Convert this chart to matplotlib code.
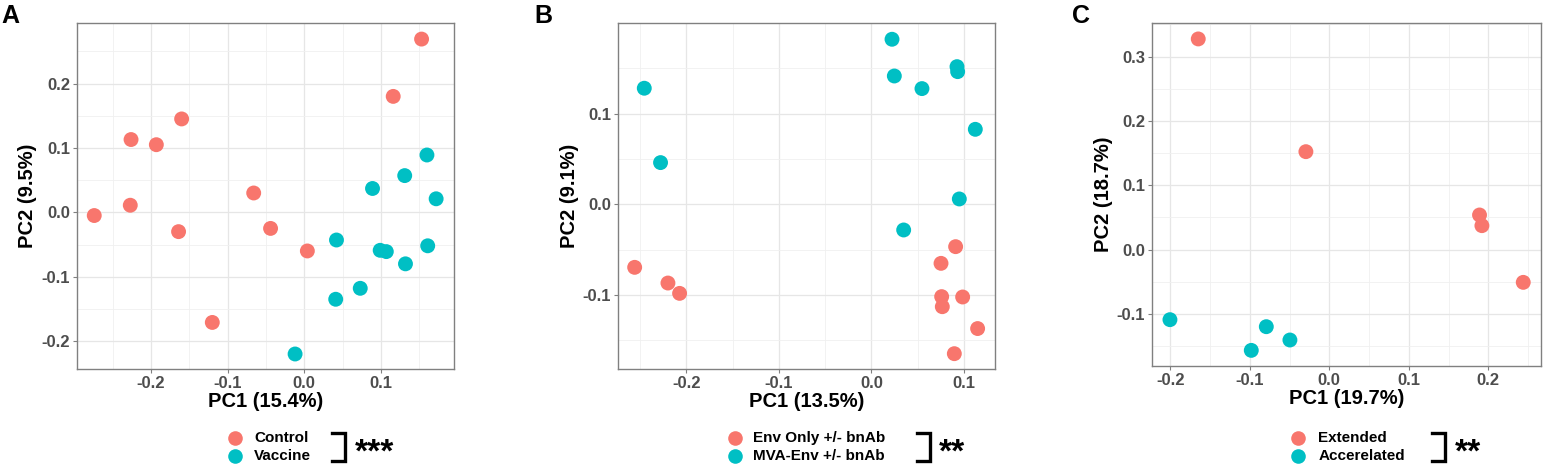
import matplotlib
matplotlib.use("Agg")
import matplotlib.pyplot as plt
from matplotlib.lines import Line2D
from matplotlib.ticker import MultipleLocator, FormatStrFormatter

plt.rcParams['font.family'] = ['Liberation Sans', 'DejaVu Sans']

RED = "#F8766D"
TEAL = "#00BFC4"

# ---------------- Data ----------------
# Panel A
a_control_x = [0.153, 0.116, -0.160, -0.226, -0.193, -0.066, -0.227, -0.274, -0.164, -0.044, 0.004, -0.120]
a_control_y = [0.269, 0.180, 0.145, 0.113, 0.105, 0.030, 0.011, -0.005, -0.030, -0.025, -0.060, -0.171]
a_vaccine_x = [0.160, 0.131, 0.089, 0.172, 0.042, 0.099, 0.107, 0.161, 0.132, 0.073, 0.041, -0.012]
a_vaccine_y = [0.089, 0.057, 0.037, 0.021, -0.043, -0.059, -0.061, -0.052, -0.080, -0.118, -0.135, -0.220]

# Panel B
b_env_x = [0.0912, 0.0754, -0.256, -0.220, -0.2074, 0.0761, 0.0988, 0.0768, 0.115, 0.0898]
b_env_y = [-0.0467, -0.0651, -0.0695, -0.0868, -0.0982, -0.1018, -0.1022, -0.1129, -0.137, -0.1647]
b_mva_x = [0.0224, 0.0249, 0.0548, 0.0927, 0.0934, -0.2456, 0.1125, -0.228, 0.0952, 0.035]
b_mva_y = [0.182, 0.1415, 0.1276, 0.1518, 0.1463, 0.128, 0.0827, 0.046, 0.0059, -0.0283]

# Panel C
c_ext_x = [-0.1648, -0.0294, 0.189, 0.192, 0.244]
c_ext_y = [0.3275, 0.1523, 0.0539, 0.0373, -0.0508]
c_acc_x = [-0.2004, -0.0792, -0.0495, -0.0981]
c_acc_y = [-0.1088, -0.1197, -0.1404, -0.1565]

panels = [
    dict(letter="A", xlabel="PC1 (15.4%)", ylabel="PC2 (9.5%)",
         groups=[("Control", RED, a_control_x, a_control_y), ("Vaccine", TEAL, a_vaccine_x, a_vaccine_y)],
         stars="***", xlim=(-0.2965, 0.1953), ylim=(-0.2433, 0.2935)),
    dict(letter="B", xlabel="PC1 (13.5%)", ylabel="PC2 (9.1%)",
         groups=[("Env Only +/- bnAb", RED, b_env_x, b_env_y), ("MVA-Env +/- bnAb", TEAL, b_mva_x, b_mva_y)],
         stars="**", xlim=(-0.2737, 0.1338), ylim=(-0.1816, 0.1996)),
    dict(letter="C", xlabel="PC1 (19.7%)", ylabel="PC2 (18.7%)",
         groups=[("Extended", RED, c_ext_x, c_ext_y), ("Accerelated", TEAL, c_acc_x, c_acc_y)],
         stars="**", xlim=(-0.2226, 0.2667), ylim=(-0.1808, 0.3518)),
]

W, H = 1549, 471
fig = plt.figure(figsize=(W / 100, H / 100), dpi=100)

def fx(px):
    return px / W

def fy(py):
    return 1 - py / H

# pixel geometry of axes boxes (left, right, top, bottom)
boxes = [(77, 454, 23.3, 369), (618.3, 995, 23.3, 369), (1152.3, 1541.3, 23.3, 366)]
letter_x = [1, 534, 1072]
legend_geo = [
    # marker x, text x, bracket left, bracket right, stars x
    (235, 254, 331.7, 345, 355),
    (735, 753.3, 916.7, 930, 939),
    (1298.3, 1318.3, 1431.7, 1445, 1455),
]

for p, box, lx, lg in zip(panels, boxes, letter_x, legend_geo):
    l, r, t, b = box
    ax = fig.add_axes([fx(l), fy(b), fx(r) - fx(l), fy(t) - fy(b)])
    ax.set_xlim(*p["xlim"])
    ax.set_ylim(*p["ylim"])
    ax.xaxis.set_major_locator(MultipleLocator(0.1))
    ax.yaxis.set_major_locator(MultipleLocator(0.1))
    ax.xaxis.set_minor_locator(MultipleLocator(0.05))
    ax.yaxis.set_minor_locator(MultipleLocator(0.05))
    ax.grid(which="major", color="#E6E6E6", linewidth=0.9)
    ax.grid(which="minor", color="#F0F0F0", linewidth=0.6)
    ax.set_axisbelow(True)
    for s in ax.spines.values():
        s.set_color("#808080")
        s.set_linewidth(1.0)
    ax.tick_params(which="major", length=3, color="#808080", width=0.8,
                   labelsize=12, labelcolor="#4D4D4D", pad=2)
    ax.tick_params(which="minor", length=0)
    ax.xaxis.set_major_formatter(FormatStrFormatter("%.1f"))
    ax.yaxis.set_major_formatter(FormatStrFormatter("%.1f"))
    for lab in ax.get_xticklabels() + ax.get_yticklabels():
        lab.set_fontweight("bold")
    for name, col, xs, ys in p["groups"]:
        ax.scatter(xs, ys, s=115, color=col, edgecolors="none", zorder=3)
    ax.set_xlabel(p["xlabel"], fontsize=14.5, fontweight="bold", color="black", labelpad=1)
    ax.set_ylabel(p["ylabel"], fontsize=14.5, fontweight="bold", color="black", labelpad=3)

    fig.text(fx(lx), fy(16), p["letter"], fontsize=18, fontweight="bold",
             ha="left", va="center")

    mx, tx, bl, br, sx = lg
    ys_leg = [438.3, 456]
    for (name, col, _, _), yy in zip(p["groups"], ys_leg):
        fig.add_artist(Line2D([fx(mx)], [fy(yy)], marker="o", markersize=10.5,
                              color=col, markeredgewidth=0, linestyle="none",
                              transform=fig.transFigure))
        fig.text(fx(tx), fy(yy), name, fontsize=11, fontweight="bold",
                 ha="left", va="center")
    fig.add_artist(Line2D([fx(bl), fx(br), fx(br), fx(bl)],
                          [fy(432.5), fy(432.5), fy(460.5), fy(460.5)],
                          color="black", linewidth=2.4, solid_joinstyle="miter",
                          transform=fig.transFigure))
    fig.text(fx(sx), fy(453), p["stars"], fontsize=24, fontweight="bold",
             ha="left", va="center")

fig.savefig("out.png", dpi=100)
